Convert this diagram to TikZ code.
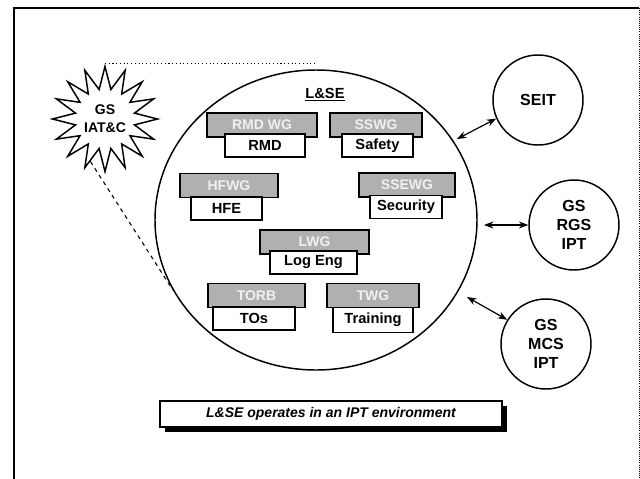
\documentclass[tikz,border=0pt]{standalone}
\usepackage{fontspec}
\setmainfont{Liberation Sans}
\usetikzlibrary{shapes.symbols,shapes.geometric,arrows.meta,shadows}
\begin{document}
\begin{tikzpicture}[x=0.75pt,y=-0.75pt,
  wg/.style={draw=black, line width=1.4pt, fill=gray!62, text=gray!12, font=\bfseries\fontsize{10.5}{12}\selectfont, inner sep=0pt, minimum height=18pt},
  area/.style={draw=black, line width=0.9pt, fill=white, font=\bfseries\fontsize{11}{12}\selectfont, inner sep=0pt, minimum height=17.25pt},
  ext/.style={circle, draw=black, line width=1.1pt, minimum size=67.5pt, inner sep=0pt, align=center, font=\bfseries\fontsize{12}{14}\selectfont},
  link/.style={Stealth-Stealth, line width=0.9pt}]
\useasboundingbox (0,0) rectangle (640,479);
% frame
\draw[line width=1.4pt] (14,479) -- (14,8) -- (639,8);
\draw[densely dotted, line width=0.6pt] (639,8) -- (639,479);

% main circle
\node[ellipse, draw=black, line width=1.1pt, minimum width=241.5pt, minimum height=225pt, inner sep=0pt] (lse) at (316,220) {};
\node[font=\bfseries\fontsize{11}{13}\selectfont] (lsetitle) at (325,95) {\underline{L\&SE}};

% starburst
\node[starburst, draw=black, line width=1.1pt, fill=white, starburst points=16, starburst point height=17pt, random starburst=0, minimum width=79pt, minimum height=79pt, align=center, inner sep=0pt, font=\bfseries\fontsize{10.5}{13.5}\selectfont] (star) at (105,119) {GS\\IAT\&C};

\draw[dotted, line width=0.8pt] (star.north) -- (star.north -| lse.north);
\draw[dashed, line width=0.8pt] (star.251) -- (lse.206);

% working groups
\node[wg, minimum width=82.5pt] (rmdwg) at (262,125) {RMD WG};
\node[area, minimum width=60pt] (rmd) at (265,145.5) {RMD};
\node[wg, minimum width=69pt] (sswg) at (376,125) {SSWG};
\node[area, minimum width=53.25pt] (safety) at (377.5,145.5) {Safety};
\node[wg, minimum width=73.5pt] (hfwg) at (229,185.5) {HFWG};
\node[area, minimum width=53.25pt] (hfe) at (226.5,208.5) {HFE};
\node[wg, minimum width=72pt] (ssewg) at (407,185) {SSEWG};
\node[area, minimum width=54pt] (security) at (406,207) {Security};
\node[wg, minimum width=81.75pt] (lwg) at (314.5,242) {LWG};
\node[area, minimum width=65.25pt] (logeng) at (313.5,262.5) {Log Eng};
\node[wg, minimum width=72.75pt] (torb) at (256.5,295.5) {TORB};
\node[area, minimum width=61.5pt] (tos) at (254,318.5) {TOs};
\node[wg, minimum width=69pt] (twg) at (373,295.5) {TWG};
\node[area, minimum width=60pt, minimum height=19pt] (training) at (373,320) {Training};

% external circles
\node[ext] (seit) at (538,100) {SEIT};
\node[ext] (rgs) at (574,225) {GS\\RGS\\IPT};
\node[ext] (mcs) at (546,344) {GS\\MCS\\IPT};

\coordinate (s1) at (457,139);
\coordinate (r1) at (484,225);
\coordinate (m1) at (467,297);
\draw[link] (s1) -- (seit.204);
\draw[link] (r1) -- (rgs.west);
\draw[link] (m1) -- (mcs.148);

% caption
\node[draw=black, line width=0.9pt, fill=white, minimum width=256.5pt, minimum height=19.5pt, inner sep=0pt,
  drop shadow={shadow xshift=4pt, shadow yshift=-4pt, fill=black, opacity=1},
  font=\bfseries\itshape\fontsize{10.5}{12}\selectfont] (caption) at (331,414) {L\&SE operates in an IPT environment};
\end{tikzpicture}
\end{document}
